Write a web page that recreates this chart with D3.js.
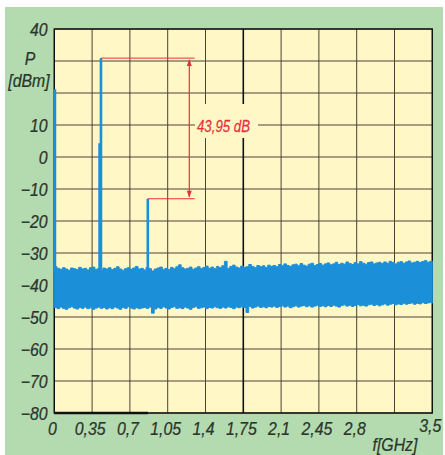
<!DOCTYPE html>
<html><head><meta charset="utf-8">
<script src="https://cdn.jsdelivr.net/npm/d3@7"></script>
<style>
html,body{margin:0;padding:0;background:#fff;}
text{font-family:"Liberation Sans","Arial",sans-serif;font-style:italic;}
</style></head>
<body><svg id="c" width="445" height="455"></svg>
<script>
// ---- data ----
const yTicks = [40, 30, 20, 10, 0, -10, -20, -30, -40, -50, -60, -70, -80];
const yTickLabels = ["40", "", "", "10", "0", "−10", "−20", "−30", "−40", "−50", "−60", "−70", "−80"];
const xTicks = [0, 0.35, 0.7, 1.05, 1.4, 1.75, 2.1, 2.45, 2.8, 3.15, 3.5];
const xTickLabels = ["0", "0,35", "0,7", "1,05", "1,4", "1,75", "2,1", "2,45", "2,8", "", "3,5"];
const spikeFreq = [0.006, 0.419, 0.432, 0.866];
const spikeLevel = [21.2, 4.3, 30.9, -13.05];
const noiseFreq = d3.range(0, 141).map(i => i * 0.025);
const noiseTop = [
  -34.3,-34.8,-35.1,-34.6,-35.0,-35.4,-34.7,-34.9,-35.2,-34.5,-35.0,-34.8,-35.3,-34.6,-34.4,-35.1,-34.9,-35.5,-34.7,-35.0,-34.6,
  -35.2,-34.8,-34.3,-35.0,-35.4,-34.9,-34.6,-35.1,-34.7,-34.2,-35.0,-34.8,-35.3,-34.5,-34.9,-35.6,-35.0,-34.7,-34.4,-35.1,
  -34.8,-35.2,-34.5,-34.9,-34.3,-33.7,-34.6,-35.0,-34.8,-34.4,-35.1,-34.7,-34.3,-34.9,-34.5,-34.1,-34.8,-34.4,-34.9,-34.2,
  -34.6,-34.0,-32.6,-34.8,-34.2,-33.8,-34.4,-34.7,-34.1,-34.5,-34.3,-33.6,-34.2,-34.6,-33.9,-34.3,-34.0,-34.5,-33.8,-34.2,
  -33.9,-34.3,-33.6,-34.0,-33.4,-33.9,-34.2,-33.7,-33.5,-34.0,-33.3,-33.8,-34.1,-33.5,-33.2,-33.9,-33.6,-33.3,-33.8,-33.4,
  -33.1,-33.7,-33.4,-32.9,-33.6,-33.2,-33.5,-32.8,-33.3,-33.6,-33.0,-33.4,-32.7,-33.2,-33.5,-33.0,-32.8,-33.4,-33.1,-32.9,
  -33.3,-32.8,-33.2,-32.6,-33.0,-33.4,-32.9,-32.7,-33.2,-32.8,-32.5,-33.1,-32.9,-32.6,-33.0,-32.7,-32.4,-32.9,-32.6,-32.5];
const noiseBottom = [
  -47.0,-47.4,-46.9,-47.3,-47.6,-47.1,-46.8,-47.2,-47.5,-47.0,-47.3,-46.9,-47.4,-47.1,-47.6,-47.2,-46.9,-47.3,-47.0,-47.5,-47.1,
  -47.4,-46.9,-47.2,-47.6,-47.0,-47.3,-46.8,-47.2,-47.5,-47.1,-47.4,-47.2,-47.0,-47.3,-46.9,-48.8,-47.5,-47.0,-47.3,-46.8,
  -47.2,-47.5,-47.0,-46.8,-47.3,-47.1,-47.4,-46.9,-47.2,-47.6,-47.0,-46.8,-47.3,-47.1,-46.9,-47.4,-47.0,-47.2,-46.8,-47.1,
  -47.3,-46.9,-47.2,-46.8,-47.0,-47.4,-46.9,-47.1,-46.8,-47.0,-48.6,-46.7,-47.2,-46.9,-46.6,-47.0,-46.8,-47.1,-46.7,-46.9,
  -46.6,-47.0,-46.7,-46.5,-46.9,-46.6,-47.1,-46.8,-46.5,-46.9,-46.6,-46.4,-46.8,-46.5,-46.9,-46.6,-46.3,-46.7,-46.5,-46.8,
  -46.4,-46.7,-46.3,-46.6,-46.9,-46.4,-46.2,-46.6,-46.3,-46.7,-46.4,-46.1,-46.5,-46.3,-46.6,-46.2,-46.0,-46.4,-46.1,-46.5,
  -46.2,-45.9,-46.3,-46.0,-45.8,-46.2,-45.9,-46.1,-45.7,-46.0,-45.8,-45.6,-46.0,-45.7,-45.9,-45.5,-45.8,-45.6,-45.4,-45.7];
const deltaLabel = "43,95 dB";
const yUnitLabels = ["P", "[dBm]"];
const xUnitLabel = "f[GHz]";

// ---- layout ----
const svg = d3.select("#c");
const L = 54.3, R = 432.3, T = 29, B = 413;
const x = d3.scaleLinear().domain([0, 3.5]).range([L, R]);
const y = d3.scaleLinear().domain([-80, 40]).range([B, T]);
const blue = "#1b8fd8", red = "#e8303a", grid = "#4a4232", txt = "#2b352c";
const SX = 0.88;

function label(g, tx, ty, s, opts) {
  opts = opts || {};
  const c = opts.fill || txt;
  return g.append("text")
    .attr("transform", `translate(${tx},${ty}) scale(${opts.sx || SX},1)`)
    .attr("text-anchor", opts.anchor || "middle")
    .attr("font-size", opts.size || 18)
    .attr("fill", c).attr("stroke", c).attr("stroke-width", 0.25)
    .text(s);
}

svg.append("rect").attr("x", 5).attr("y", 7).attr("width", 438).attr("height", 448).attr("fill", "#b4dbb0");
svg.append("rect").attr("x", L).attr("y", T).attr("width", R - L).attr("height", B - T).attr("fill", "#fff8c6");

// grid
svg.append("g").selectAll("line").data(yTicks).join("line")
  .attr("x1", L).attr("x2", R).attr("y1", d => y(d)).attr("y2", d => y(d))
  .attr("stroke", grid).attr("stroke-width", 1);
svg.append("g").selectAll("line").data(xTicks).join("line")
  .attr("y1", T).attr("y2", B).attr("x1", d => x(d)).attr("x2", d => x(d))
  .attr("stroke", d => d === 1.75 ? "#111" : grid).attr("stroke-width", d => d === 1.75 ? 1.6 : 1);

// text background box over grid
svg.append("rect").attr("x", 195).attr("y", 104).attr("width", 63).attr("height", 34).attr("fill", "#fff8c6");

// frame
svg.append("rect").attr("x", L).attr("y", T).attr("width", R - L).attr("height", B - T)
  .attr("fill", "none").attr("stroke", "#111").attr("stroke-width", 1.4);
svg.append("line").attr("x1", x(0)).attr("x2", x(0.866)).attr("y1", y(-80)).attr("y2", y(-80))
  .attr("stroke", "#111").attr("stroke-width", 2.6);

// noise band
const area = d3.area().x((d, i) => x(noiseFreq[i])).y0((d, i) => y(noiseBottom[i])).y1((d, i) => y(noiseTop[i])).curve(d3.curveStepAfter);
svg.append("path").datum(noiseFreq).attr("d", area).attr("fill", blue).attr("stroke", blue).attr("stroke-width", 1);

// spikes
svg.append("g").selectAll("line").data(spikeFreq).join("line")
  .attr("x1", d => x(d)).attr("x2", d => x(d))
  .attr("y1", y(-36)).attr("y2", (d, i) => y(spikeLevel[i]))
  .attr("stroke", blue).attr("stroke-width", 2.6);

// annotation
const ax = x(1.25), aEnd = x(1.3);
const yTop = y(spikeLevel[2]), yBot = y(spikeLevel[3]);
svg.append("line").attr("x1", x(spikeFreq[2])).attr("x2", aEnd).attr("y1", yTop).attr("y2", yTop).attr("stroke", red).attr("stroke-width", 1);
svg.append("line").attr("x1", x(spikeFreq[3])).attr("x2", aEnd).attr("y1", yBot).attr("y2", yBot).attr("stroke", red).attr("stroke-width", 1);
svg.append("line").attr("x1", ax).attr("x2", ax).attr("y1", yTop + 2).attr("y2", yBot - 2).attr("stroke", red).attr("stroke-width", 1.2);
svg.append("path").attr("d", `M${ax},${yTop + 1}l-2.5,7h5z`).attr("fill", red);
svg.append("path").attr("d", `M${ax},${yBot - 1}l-2.5,-7h5z`).attr("fill", red);
label(svg, 197, y(10) + 6.5, deltaLabel, {anchor: "start", size: 17, sx: 0.78, fill: red});

// y labels
const gy = svg.append("g");
yTicks.forEach((d, i) => { if (yTickLabels[i]) label(gy, 47.5, y(d) + 6.5, yTickLabels[i], {anchor: "end"}); });
label(svg, 30, 65, yUnitLabels[0]);
label(svg, 29, 87, yUnitLabels[1]);

// x labels
const gx = svg.append("g");
xTicks.forEach((d, i) => {
  if (!xTickLabels[i]) return;
  const last = d === 3.5;
  label(gx, x(d) - 2, last ? 432 : 435, xTickLabels[i]);
});
label(svg, 395, 451, xUnitLabel);
</script></body></html>
